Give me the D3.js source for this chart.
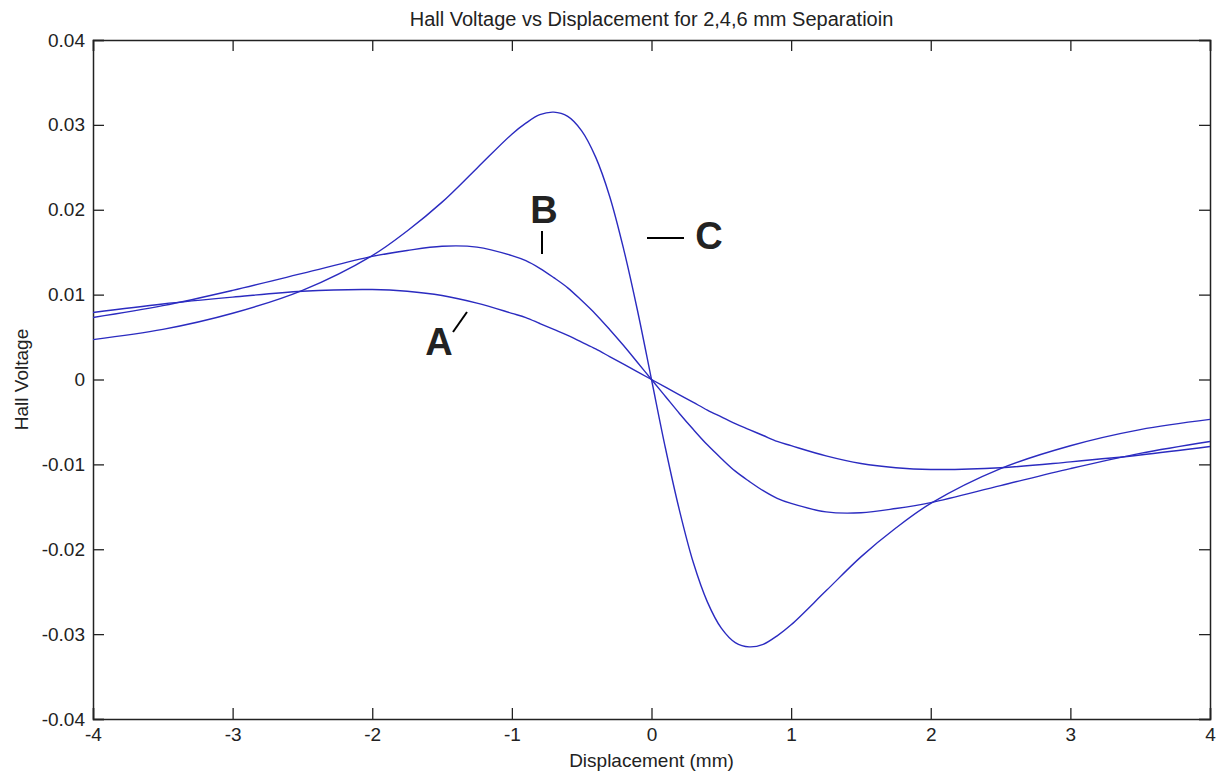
<!DOCTYPE html>
<html>
<head>
<meta charset="utf-8">
<script src="https://cdn.jsdelivr.net/npm/d3@7"></script>
<style>
  body { margin: 0; background: #fff; }
  text { font-family: "Liberation Sans", Arial, sans-serif; fill: #222; }
</style>
</head>
<body>
<script>
// displacement (mm)
var xs = [-4, -3.5, -3, -2.5, -2, -1.75, -1.5, -1.25, -1, -0.9, -0.8, -0.7, -0.6, -0.5, -0.4, -0.3, -0.2, -0.1, 0,
          0.1, 0.2, 0.3, 0.4, 0.5, 0.6, 0.7, 0.8, 0.9, 1, 1.25, 1.5, 1.75, 2, 2.5, 3, 3.5, 4];

// A: 6 mm separation
var voltA = [0.0079, 0.0089, 0.0097, 0.0104, 0.0106, 0.0104, 0.0099, 0.0090, 0.0078, 0.0073, 0.0066, 0.0059, 0.0052, 0.0044, 0.0036, 0.0027, 0.0018, 0.0009, 0,
             -0.0009, -0.0018, -0.0027, -0.0036, -0.0044, -0.0052, -0.0059, -0.0066, -0.0073, -0.0078, -0.0090, -0.0099, -0.0104, -0.0106, -0.0104, -0.0097, -0.0089, -0.0079];
// B: 4 mm separation
var voltB = [0.0073, 0.0087, 0.0105, 0.0125, 0.0145, 0.0152, 0.0157, 0.0156, 0.0146, 0.0140, 0.0131, 0.0120, 0.0108, 0.0093, 0.0077, 0.0059, 0.0040, 0.0020, 0,
             -0.0020, -0.0040, -0.0059, -0.0077, -0.0093, -0.0108, -0.0120, -0.0131, -0.0140, -0.0146, -0.0156, -0.0157, -0.0152, -0.0145, -0.0125, -0.0105, -0.0087, -0.0073];
// C: 2 mm separation
var voltC = [0.0047, 0.0059, 0.0078, 0.0105, 0.0146, 0.0175, 0.0209, 0.0249, 0.0289, 0.0302, 0.0312, 0.0315, 0.0310, 0.0293, 0.0262, 0.0216, 0.0154, 0.0081, 0,
             -0.0081, -0.0154, -0.0216, -0.0262, -0.0293, -0.0310, -0.0315, -0.0312, -0.0302, -0.0289, -0.0249, -0.0209, -0.0175, -0.0146, -0.0105, -0.0078, -0.0059, -0.0047];

var xTicks = [-4, -3, -2, -1, 0, 1, 2, 3, 4];
var xTickLabels = ["-4", "-3", "-2", "-1", "0", "1", "2", "3", "4"];
var yTicks = [0.04, 0.03, 0.02, 0.01, 0, -0.01, -0.02, -0.03, -0.04];
var yTickLabels = ["0.04", "0.03", "0.02", "0.01", "0", "-0.01", "-0.02", "-0.03", "-0.04"];

var titleText = "Hall Voltage vs Displacement for 2,4,6 mm Separatioin";
var xLabel = "Displacement (mm)";
var yLabel = "Hall Voltage";

var width = 1216, height = 774;
// note: "top" is taken by window.top, so prefix these
var plotL = 93, plotR = 1210, plotT = 40, plotB = 719;

var svg = d3.select("body").append("svg")
  .attr("width", width)
  .attr("height", height);

var x = d3.scaleLinear().domain([-4, 4]).range([plotL, plotR]);
var y = d3.scaleLinear().domain([-0.04, 0.04]).range([plotB, plotT]);

var tickLen = 11;

// axes: bottom/left carry labels, top/right only ticks (matlab box)
svg.append("g")
  .attr("transform", "translate(0," + plotB + ")")
  .call(d3.axisBottom(x).tickValues(xTicks).tickSize(-tickLen).tickPadding(9)
    .tickFormat(function(d, i) { return xTickLabels[i]; }));
svg.append("g")
  .attr("transform", "translate(0," + plotT + ")")
  .call(d3.axisTop(x).tickValues(xTicks).tickSize(-tickLen).tickFormat(""));
svg.append("g")
  .attr("transform", "translate(" + plotL + ",0)")
  .call(d3.axisLeft(y).tickValues(yTicks).tickSize(-tickLen).tickPadding(8)
    .tickFormat(function(d, i) { return yTickLabels[i]; }));
svg.append("g")
  .attr("transform", "translate(" + plotR + ",0)")
  .call(d3.axisRight(y).tickValues(yTicks).tickSize(-tickLen).tickFormat(""));

svg.selectAll(".domain").attr("stroke", "#222").attr("stroke-width", 1.5);
svg.selectAll(".tick line").attr("stroke", "#222").attr("stroke-width", 1.3);
svg.selectAll(".tick text").attr("font-size", 19).attr("font-family", "Liberation Sans, Arial, sans-serif").attr("fill", "#222");

// curves
var line = d3.line()
  .x(function(d) { return x(d[0]); })
  .y(function(d) { return y(d[1]); })
  .curve(d3.curveCatmullRom.alpha(0.5));

[voltA, voltB, voltC].forEach(function(vals) {
  svg.append("path")
    .datum(xs.map(function(v, i) { return [v, vals[i]]; }))
    .attr("fill", "none")
    .attr("stroke", "#2b2bc0")
    .attr("stroke-width", 1.4)
    .attr("d", line);
});

// titles
svg.append("text")
  .attr("x", (plotL + plotR) / 2).attr("y", 26)
  .attr("text-anchor", "middle").attr("font-size", 20)
  .text(titleText);
svg.append("text")
  .attr("x", (plotL + plotR) / 2).attr("y", 767)
  .attr("text-anchor", "middle").attr("font-size", 19)
  .text(xLabel);
svg.append("text")
  .attr("transform", "translate(28," + (plotT + plotB) / 2 + ") rotate(-90)")
  .attr("text-anchor", "middle").attr("font-size", 19)
  .text(yLabel);

// curve callouts
var callouts = svg.append("g").attr("class", "callouts");
callouts.append("text").attr("x", 439).attr("y", 355).text("A");
callouts.append("text").attr("x", 544).attr("y", 223).text("B");
callouts.append("text").attr("x", 709).attr("y", 249).text("C");
callouts.selectAll("text")
  .attr("text-anchor", "middle")
  .attr("font-family", "Lato, 'Open Sans', sans-serif")
  .attr("font-weight", 700)
  .attr("font-size", 38)
  .attr("fill", "#000");
callouts.append("line").attr("x1", 453).attr("y1", 332).attr("x2", 467).attr("y2", 312);
callouts.append("line").attr("x1", 542).attr("y1", 231).attr("x2", 542).attr("y2", 254);
callouts.append("line").attr("x1", 647).attr("y1", 238).attr("x2", 684).attr("y2", 238);
callouts.selectAll("line").attr("stroke", "#000").attr("stroke-width", 2);
</script>
</body>
</html>
